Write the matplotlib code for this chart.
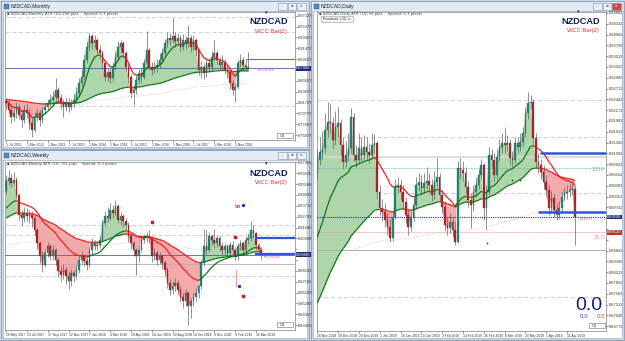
#!/usr/bin/env python3
# -*- coding:utf-8 -*-
# NZDCAD monthly / weekly / daily terminal screenshot with the WCC Bar indicator
import matplotlib
matplotlib.use("Agg")
import matplotlib.pyplot as plt
from matplotlib.patches import Rectangle
from matplotlib.collections import LineCollection
import numpy as np

W, H = 625, 341

# ---------------- monthly (Jul 2011 .. Apr 2019)
m_open0 = 0.820
m_close = [0.816, 0.804, 0.792, 0.798, 0.810, 0.795, 0.786, 0.804, 0.798, 0.780,
           0.768, 0.792, 0.798, 0.786, 0.804, 0.810, 0.816, 0.822, 0.828, 0.840,
           0.825, 0.816, 0.810, 0.819, 0.810, 0.816, 0.822, 0.834, 0.852, 0.864,
           0.894, 0.918, 0.936, 0.924, 0.930, 0.912, 0.906, 0.888, 0.864, 0.873,
           0.861, 0.882, 0.900, 0.918, 0.924, 0.906, 0.882, 0.864, 0.834, 0.840,
           0.858, 0.870, 0.864, 0.888, 0.912, 0.882, 0.876, 0.882, 0.885, 0.894,
           0.906, 0.924, 0.933, 0.930, 0.936, 0.927, 0.933, 0.918, 0.930, 0.924,
           0.933, 0.918, 0.930, 0.912, 0.876, 0.882, 0.870, 0.888, 0.882, 0.900,
           0.906, 0.894, 0.885, 0.891, 0.876, 0.873, 0.852, 0.840, 0.846, 0.888,
           0.894, 0.885, 0.882, 0.879]
m_high = [0.826, 0.822, 0.812, 0.808, 0.818, 0.815, 0.800, 0.812, 0.814, 0.806,
          0.790, 0.798, 0.806, 0.804, 0.810, 0.818, 0.824, 0.832, 0.838, 0.861,
          0.846, 0.832, 0.824, 0.828, 0.826, 0.824, 0.834, 0.846, 0.862, 0.876,
          0.904, 0.928, 0.942, 0.940, 0.938, 0.934, 0.920, 0.912, 0.894, 0.882,
          0.880, 0.890, 0.910, 0.928, 0.930, 0.928, 0.910, 0.888, 0.868, 0.848,
          0.866, 0.878, 0.880, 0.896, 0.945, 0.916, 0.890, 0.892, 0.896, 0.904,
          0.916, 0.932, 0.944, 0.942, 0.969, 0.944, 0.942, 0.938, 0.940, 0.936,
          0.956, 0.938, 0.938, 0.934, 0.916, 0.892, 0.888, 0.896, 0.898, 0.910,
          0.930, 0.912, 0.900, 0.902, 0.896, 0.884, 0.878, 0.858, 0.852, 0.894,
          0.904, 0.900, 0.896, 0.908]
m_low = [0.806, 0.796, 0.780, 0.784, 0.790, 0.788, 0.774, 0.780, 0.790, 0.770,
         0.756, 0.764, 0.784, 0.776, 0.780, 0.796, 0.804, 0.810, 0.814, 0.822,
         0.818, 0.806, 0.792, 0.802, 0.800, 0.804, 0.810, 0.816, 0.828, 0.846,
         0.858, 0.888, 0.910, 0.914, 0.916, 0.904, 0.896, 0.878, 0.856, 0.856,
         0.852, 0.856, 0.876, 0.894, 0.908, 0.898, 0.874, 0.852, 0.826, 0.813,
         0.832, 0.850, 0.854, 0.860, 0.884, 0.876, 0.866, 0.870, 0.872, 0.880,
         0.888, 0.900, 0.918, 0.920, 0.924, 0.918, 0.920, 0.910, 0.912, 0.914,
         0.918, 0.908, 0.912, 0.902, 0.866, 0.862, 0.860, 0.864, 0.874, 0.876,
         0.894, 0.886, 0.876, 0.878, 0.868, 0.862, 0.842, 0.830, 0.819, 0.842,
         0.882, 0.878, 0.874, 0.874]
m_dates = ["1 Jul 2011", "1 Mar 2012", "1 Nov 2012", "1 Jul 2013", "1 Mar 2014",
           "1 Nov 2014", "1 Jul 2015", "1 Mar 2016", "1 Nov 2016", "1 Jul 2017",
           "1 Mar 2018", "1 Nov 2018"]
m_dashed = [0.9716, 0.9434, 0.8108]
m_bid = 0.8786
m_level = 0.8948

# ---------------- weekly (28 May 2017 .. 14 Apr 2019)
w_open0 = 0.9500
w_close = [0.9583, 0.9612, 0.9569, 0.9597, 0.9468, 0.9295, 0.9266, 0.9309, 0.9281, 0.9295,
           0.9266, 0.9165, 0.9050, 0.8935, 0.8863, 0.8964, 0.9021, 0.8935, 0.8993, 0.8906,
           0.8805, 0.8777, 0.8820, 0.8762, 0.8719, 0.8791, 0.8762, 0.8820, 0.8906, 0.8935,
           0.8892, 0.8863, 0.8993, 0.9050, 0.9021, 0.9036, 0.9079, 0.9223, 0.9281, 0.9266,
           0.9338, 0.9309, 0.9367, 0.9252, 0.9281, 0.9237, 0.9209, 0.9108, 0.9050, 0.8993,
           0.8935, 0.8993, 0.9079, 0.9093, 0.9108, 0.9093, 0.8935, 0.8964, 0.8906, 0.8935,
           0.8877, 0.8820, 0.8705, 0.8647, 0.8676, 0.8705, 0.8647, 0.8589, 0.8546, 0.8618,
           0.8503, 0.8546, 0.8589, 0.8618, 0.8676, 0.8877, 0.9021, 0.8993, 0.9108, 0.9079,
           0.9050, 0.9093, 0.9021, 0.8993, 0.9021, 0.8964, 0.9036, 0.8993, 0.8935, 0.9021,
           0.9050, 0.8993, 0.9079, 0.9093, 0.9165, 0.9137, 0.9036, 0.8993, 0.8949]
w_high = [0.9640, 0.9680, 0.9650, 0.9660, 0.9620, 0.9480, 0.9340, 0.9360, 0.9350, 0.9340,
          0.9330, 0.9290, 0.9180, 0.9070, 0.8980, 0.9000, 0.9060, 0.9040, 0.9030, 0.9010,
          0.8930, 0.8850, 0.8870, 0.8840, 0.8800, 0.8830, 0.8820, 0.8860, 0.8950, 0.8980,
          0.8960, 0.8920, 0.9020, 0.9090, 0.9080, 0.9070, 0.9110, 0.9250, 0.9330, 0.9360,
          0.9400, 0.9380, 0.9425, 0.9390, 0.9320, 0.9300, 0.9270, 0.9230, 0.9130, 0.9070,
          0.9010, 0.9030, 0.9110, 0.9130, 0.9150, 0.9160, 0.9110, 0.9010, 0.8990, 0.8970,
          0.8960, 0.8900, 0.8840, 0.8740, 0.8720, 0.8750, 0.8730, 0.8680, 0.8620, 0.8650,
          0.8640, 0.8580, 0.8620, 0.8660, 0.8700, 0.8900, 0.9170, 0.9160, 0.9150, 0.9130,
          0.9170, 0.9120, 0.9110, 0.9060, 0.9050, 0.9040, 0.9060, 0.9070, 0.9020, 0.9050,
          0.9080, 0.9070, 0.9110, 0.9140, 0.9240, 0.9210, 0.9150, 0.9050, 0.9020]
w_low = [0.9470, 0.9550, 0.9530, 0.9540, 0.9440, 0.9250, 0.9200, 0.9230, 0.9240, 0.9220,
         0.9190, 0.9120, 0.9000, 0.8880, 0.8800, 0.8840, 0.8930, 0.8900, 0.8900, 0.8860,
         0.8760, 0.8720, 0.8740, 0.8700, 0.8650, 0.8680, 0.8710, 0.8740, 0.8790, 0.8870,
         0.8850, 0.8820, 0.8840, 0.8960, 0.8990, 0.8990, 0.9010, 0.9060, 0.9200, 0.9230,
         0.9250, 0.9270, 0.9290, 0.9220, 0.9210, 0.9190, 0.9170, 0.9060, 0.9000, 0.8940,
         0.8777, 0.8890, 0.8970, 0.9050, 0.9060, 0.9050, 0.8890, 0.8900, 0.8860, 0.8870,
         0.8830, 0.8770, 0.8660, 0.8600, 0.8610, 0.8640, 0.8600, 0.8540, 0.8490, 0.8510,
         0.8345, 0.8400, 0.8510, 0.8550, 0.8580, 0.8650, 0.8850, 0.8960, 0.8970, 0.9030,
         0.9010, 0.9020, 0.8980, 0.8950, 0.8960, 0.8930, 0.8940, 0.8950, 0.8900, 0.8900,
         0.8990, 0.8950, 0.8960, 0.9040, 0.9070, 0.9090, 0.9000, 0.8960, 0.8900]
w_dates = ["28 May 2017", "23 Jul 2017", "17 Sep 2017", "12 Nov 2017", "7 Jan 2018",
           "4 Mar 2018", "29 Apr 2018", "24 Jun 2018", "19 Aug 2018", "14 Oct 2018",
           "9 Dec 2018", "3 Feb 2019", "31 Mar 2019"]
w_dashed = [0.9209, 0.9122, 0.8768]
w_solid = [0.8872]
w_bid = 0.8949
w_levels = [0.9093, 0.8958]

# ---------------- daily (28 Nov 2018 .. 16 Apr 2019)
d_open0 = 0.9060
d_close = [0.9093, 0.9113, 0.9122, 0.9168, 0.9188, 0.9184, 0.9143, 0.9176, 0.9184, 0.9130,
           0.9088, 0.9105, 0.9122, 0.9201, 0.9105, 0.9093, 0.9122, 0.9105, 0.9126, 0.9113,
           0.9105, 0.9130, 0.9134, 0.9013, 0.8972, 0.8963, 0.8943, 0.8926, 0.8897, 0.8951,
           0.9026, 0.9030, 0.9013, 0.8988, 0.8955, 0.8926, 0.8951, 0.8980, 0.9030, 0.9038,
           0.9022, 0.9034, 0.9041, 0.9030, 0.9005, 0.9038, 0.9049, 0.9005, 0.8976, 0.8930,
           0.8922, 0.8938, 0.8918, 0.8888, 0.9072, 0.9068, 0.9059, 0.9026, 0.8993, 0.8980,
           0.9013, 0.9030, 0.9055, 0.9080, 0.8972, 0.9013, 0.9105, 0.9093, 0.9055, 0.9101,
           0.9126, 0.9134, 0.9130, 0.9134, 0.9097, 0.9093, 0.9134, 0.9126, 0.9138, 0.9159,
           0.9209, 0.9234, 0.9238, 0.9147, 0.9088, 0.9080, 0.9063, 0.9038, 0.9018, 0.8972,
           0.8997, 0.8968, 0.8955, 0.8972, 0.9001, 0.9009, 0.9013, 0.9018, 0.9019, 0.8951]
d_high = [0.9120, 0.9150, 0.9165, 0.9210, 0.9238, 0.9235, 0.9200, 0.9215, 0.9225, 0.9195,
          0.9150, 0.9140, 0.9160, 0.9222, 0.9210, 0.9130, 0.9160, 0.9150, 0.9155, 0.9150,
          0.9135, 0.9160, 0.9158, 0.9140, 0.9030, 0.8995, 0.8985, 0.8960, 0.8945, 0.8965,
          0.9045, 0.9051, 0.9045, 0.9030, 0.9000, 0.8970, 0.8965, 0.9000, 0.9051, 0.9060,
          0.9055, 0.9060, 0.9076, 0.9060, 0.9045, 0.9065, 0.9097, 0.9060, 0.9020, 0.8990,
          0.8950, 0.8960, 0.8950, 0.8940, 0.9090, 0.9097, 0.9090, 0.9075, 0.9040, 0.9010,
          0.9030, 0.9050, 0.9070, 0.9095, 0.9085, 0.9030, 0.9126, 0.9120, 0.9110, 0.9120,
          0.9145, 0.9160, 0.9176, 0.9155, 0.9145, 0.9115, 0.9150, 0.9150, 0.9160, 0.9175,
          0.9225, 0.9263, 0.9255, 0.9245, 0.9160, 0.9110, 0.9095, 0.9080, 0.9055, 0.9030,
          0.9015, 0.9010, 0.8985, 0.8990, 0.9015, 0.9025, 0.9030, 0.9035, 0.9035, 0.9030]
d_low = [0.9045, 0.9080, 0.9095, 0.9110, 0.9150, 0.9160, 0.9120, 0.9130, 0.9150, 0.9105,
         0.9070, 0.9075, 0.9090, 0.9110, 0.9090, 0.9075, 0.9085, 0.9090, 0.9095, 0.9095,
         0.9085, 0.9095, 0.9110, 0.8995, 0.8955, 0.8940, 0.8925, 0.8905, 0.8888, 0.8890,
         0.8945, 0.9010, 0.8995, 0.8970, 0.8935, 0.8905, 0.8915, 0.8940, 0.8970, 0.9015,
         0.9005, 0.9010, 0.9020, 0.9010, 0.8990, 0.8995, 0.9025, 0.8990, 0.8960, 0.8915,
         0.8905, 0.8910, 0.8900, 0.8880, 0.8885, 0.9045, 0.9040, 0.9010, 0.8975, 0.8922,
         0.8965, 0.9000, 0.9020, 0.9045, 0.8943, 0.8918, 0.9005, 0.9075, 0.9040, 0.9045,
         0.9090, 0.9110, 0.9110, 0.9115, 0.9080, 0.9075, 0.9085, 0.9110, 0.9115, 0.9125,
         0.9150, 0.9195, 0.9220, 0.9130, 0.9075, 0.9060, 0.9045, 0.9020, 0.9000, 0.8955,
         0.8960, 0.8950, 0.8943, 0.8945, 0.8960, 0.8990, 0.8995, 0.9000, 0.9005, 0.8880]
d_dates = ["28 Nov 2018", "10 Dec 2018", "20 Dec 2018", "1 Jan 2019", "10 Jan 2019",
           "23 Jan 2019", "4 Feb 2019", "14 Feb 2019", "26 Feb 2019", "8 Mar 2019",
           "20 Mar 2019", "1 Apr 2019", "11 Apr 2019"]
d_dashed = [0.9242, 0.9151, 0.9011, 0.8751]
d_solid = [0.9101, 0.8868]
d_bid = 0.8950
d_tp = 0.9073
d_sl = 0.8912
d_levels = [0.9109, 0.8962]

# indicator settings: (period, seed) for fast, slow and long average
m_ma = [(8, 0.822), (89, 0.823), (200, 0.815)]
w_ma = [(21, 0.9327), (50, 0.9253), (200, 0.902)]
d_ma = [(21, 0.888), (50, 0.872), (200, 0.8824)]

BULL, BEAR = "#23897a", "#b3262a"
GREEN_LINE, RED_LINE = "#0b7512", "#ee1c1c"
GREEN_FILL, RED_FILL = "#afd6aa", "#f7a8a8"
SMALL = "Liberation Sans"


def ema(vals, period, seed):
    a = 2.0 / (period + 1)
    out, e = [], seed
    for v in vals:
        e = e + a * (v - e)
        out.append(e)
    return np.array(out)


def trend_line(ax, y, c, lw):
    x = np.arange(len(y))
    pts = np.column_stack([x, y])
    segs = np.stack([pts[:-1], pts[1:]], axis=1)
    cols = np.where(c[1:] >= y[1:], GREEN_LINE, RED_LINE)
    ax.add_collection(LineCollection(segs, colors=cols, linewidths=lw, zorder=5))


def chart(ax, open0, close, high, low, ma, ylim, ystep, dates, tags):
    c = np.array(close)
    o = np.concatenate([[open0], c[:-1]])
    h, l = np.array(high), np.array(low)
    x = np.arange(len(c))
    fast, slow, long_ = [ema(c, p, s) for p, s in ma]

    ax.fill_between(x, c, slow, where=c >= slow, interpolate=True, color=GREEN_FILL, lw=0, zorder=1)
    ax.fill_between(x, c, slow, where=c < slow, interpolate=True, color=RED_FILL, lw=0, zorder=1)
    ax.plot(x, long_, color="#c4c4c4", lw=0.6, ls=(0, (1, 1.5)), zorder=2)

    up = c >= o
    ax.vlines(x, l, h, color="#555555", lw=0.45, zorder=3)
    ax.bar(x[up], (c - o)[up], bottom=o[up], width=0.62, color=BULL,
           edgecolor="#1b5e55", lw=0.2, zorder=4)
    ax.bar(x[~up], (o - c)[~up], bottom=c[~up], width=0.62, color=BEAR,
           edgecolor="#7a1a1a", lw=0.2, zorder=4)
    trend_line(ax, slow, c, 0.9)
    trend_line(ax, fast, c, 0.9)

    ax.set_xlim(-0.4, 111)
    ax.set_ylim(*ylim)
    ax.yaxis.tick_right()
    ticks = np.arange(ylim[0] + ystep * 0.45, ylim[1], ystep)
    # hide the plain labels that would sit under a coloured price tag
    keep = [t for t in ticks if all(abs(t - g) > 0.7 * ystep for g in tags)]
    ax.set_yticks(ticks)
    ax.set_yticklabels(["%.5f" % t if t in keep else "" for t in ticks],
                       fontfamily=SMALL)
    ax.set_xticks(np.arange(0, 8 * len(dates), 8))
    ax.set_xticklabels(dates, ha="left", fontfamily=SMALL)
    ax.tick_params(axis="y", length=1.5, width=0.4, labelsize=2.9, pad=0.8,
                   colors="#333333")
    ax.tick_params(axis="x", length=1.5, width=0.4, labelsize=2.4, pad=0.8,
                   colors="#333333")
    for sp in ax.spines.values():
        sp.set_color("#808080")
        sp.set_linewidth(0.5)
    for v, fc in tags.items():
        ax.text(1.004, v, "%.5f" % v, transform=ax.get_yaxis_transform(), fontsize=2.9,
                color="white", va="center", ha="left", clip_on=False, zorder=20,
                family=SMALL, bbox=dict(boxstyle="square,pad=0.12", fc=fc, ec="none"))
    return c


def hlines(ax, levels, **kw):
    for v in levels:
        ax.axhline(v, zorder=2.5, **kw)


fig = plt.figure(figsize=(6.25, 3.41), dpi=100)
bg = fig.add_axes([0, 0, 1, 1], zorder=-5)
bg.set_xlim(0, W)
bg.set_ylim(H, 0)
bg.axis("off")
bg.add_patch(Rectangle((0, 0), W, H, color="#cdd8e5"))


def window(x0, y0, x1, y1, title, red_close=False):
    bg.add_patch(Rectangle((x0, y0), x1 - x0, y1 - y0, facecolor="#c6d4e6",
                           edgecolor="#8a9db8", lw=0.6))
    bg.add_patch(Rectangle((x0 + 1, y0 + 1), x1 - x0 - 2, 8.5, facecolor="#e2eaf4",
                           edgecolor="none"))
    bg.add_patch(Rectangle((x0 + 3, y0 + 2.5), 5, 5, facecolor="#5b86c4",
                           edgecolor="#2a4a80", lw=0.3))
    bg.text(x0 + 10, y0 + 5.3, title, fontsize=3.6, va="center", color="#1e1e1e",
            family=SMALL)
    for k, sym in enumerate(["\u2012", "\u25ab", "x"]):
        bx = x1 - 31 + k * 9.5
        fc = "#cf4a3c" if (red_close and k == 2) else "#eef2f8"
        bg.add_patch(Rectangle((bx, y0 + 2), 8.5, 6.5, facecolor=fc,
                               edgecolor="#7d8ea6", lw=0.4))
        bg.text(bx + 4.25, y0 + 5.3, sym, fontsize=3.0, ha="center", va="center",
                color="white" if fc != "#eef2f8" else "#333333")
    bg.add_patch(Rectangle((x0 + 2, y0 + 10), x1 - x0 - 4, y1 - y0 - 12,
                           facecolor="white", edgecolor="#9aa9bd", lw=0.4))


window(1, 1, 309, 149, "NZDCAD,Monthly")
window(1, 150, 309, 340, "NZDCAD,Weekly")
window(311, 1, 624, 340, "NZDCAD,Daily", red_close=True)


def px_axes(x0, y0, x1, y1):
    return fig.add_axes([x0 / W, 1 - y1 / H, (x1 - x0) / W, (y1 - y0) / H])


NAVY_TAG = "#1f2a78"

# ---- monthly
axm = px_axes(5, 12, 295, 140)
chart(axm, m_open0, m_close, m_high, m_low, m_ma, (0.750, 0.980), 0.0195, m_dates,
      {m_bid: NAVY_TAG})
hlines(axm, m_dashed, color="#c8c8c8", lw=0.6, ls=(0, (5, 3)))
axm.axhline(m_bid, color="#5360b0", lw=0.6, zorder=2.6)
axm.hlines(m_level, 92.3, 111, color="#4a62c8", lw=0.7, zorder=6)

# ---- weekly
axw = px_axes(5, 162, 295, 330)
chart(axw, w_open0, w_close, w_high, w_low, w_ma, (0.830, 0.975), 0.00936, w_dates,
      {w_bid: NAVY_TAG})
hlines(axw, w_dashed, color="#c8c8c8", lw=0.6, ls=(0, (5, 3)))
hlines(axw, w_solid, color="#b0b0b0", lw=0.6)
axw.axhline(w_bid, color="#5360b0", lw=0.6, zorder=2.6)
axw.hlines(w_levels, 95.8, 111, color="#2f56d6", lw=1.6, zorder=6)
w_mark_x = [56, 88, 91]
w_mark_y = [0.9234, 0.9105, 0.8595]
axw.scatter(w_mark_x, w_mark_y, s=2.5, marker="s", color="#d01818", zorder=7)
axw.vlines(88.5, 0.8676, 0.8820, color="#d01818", lw=0.6, ls=(0, (1, 1)), zorder=7)
axw.scatter([89.5], [0.8680], s=2, color="#2233cc", zorder=7)
axw.text(89, 0.9364, "t\u0438", fontsize=4.5, color="#d01818", ha="center",
         va="center", zorder=7)
axw.scatter([91], [0.9380], s=2, color="#2233cc", zorder=7)

# ---- daily
axd = px_axes(317, 12, 606, 331)
chart(axd, d_open0, d_close, d_high, d_low, d_ma, (0.8665, 0.94625), 0.0027, d_dates,
      {d_bid: NAVY_TAG, d_sl: "#c03030"})
axd.set_xlim(-0.1, 111)
hlines(axd, d_dashed, color="#c8c8c8", lw=0.6, ls=(0, (5, 3)))
axd.axhline(d_solid[0], color="#d8d8d8", lw=1.2, zorder=2.4)
axd.axhline(d_solid[1], color="#a8a8a8", lw=0.6, zorder=2.4)
axd.axhline(d_tp, color="#60b8b8", lw=0.6, ls=(0, (1, 1)), zorder=2.6)
axd.axhline(d_sl, color="#f08a8a", lw=0.6, ls=(0, (1, 1)), zorder=2.6)
axd.axhline(d_bid, color="#1a2a9a", lw=0.8, ls=(0, (1, 1)), zorder=2.7)
axd.hlines(d_levels, [85.7, 85.0], 111, color="#2f56d6", lw=1.8, zorder=6)
d_plus_x = [65.3, 74.9, 78.0]
d_plus_y = [0.8885, 0.9043, 0.9043]
axd.scatter(d_plus_x, d_plus_y, marker="+", s=4, lw=0.6, color="#0b7512", zorder=7)
axd.text(110.5, d_tp - 0.0008, "1200", fontsize=3.6, color="#5fb0b0", ha="right", zorder=7)
axd.text(110.5, d_sl - 0.0016, "35.0", fontsize=3.6, color="#ee8888", ha="right", zorder=7)
axd.text(100.5, d_bid - 0.0007, "-000.0", fontsize=3.2, color="#d85aa8", ha="left", zorder=7)

# ---- overlay texts
top = fig.add_axes([0, 0, 1, 1], zorder=10)
top.set_xlim(0, W)
top.set_ylim(H, 0)
top.axis("off")

info = [(7, 14.5, "NZDCAD,Monthly ATR (15) 294 pips    Spread: 0.3 points"),
        (7, 164.5, "NZDCAD,Weekly ATR (15) 151 pips    Spread: 0.3 points"),
        (319, 14.5, "NZDCAD,Daily ATR (15) 54 pips    Spread: 0.3 points")]
for x, y, s in info:
    top.text(x, y, "\u25aa " + s, fontsize=2.7, color="#444444", va="center")

for cx, cy in [(269, 22), (269, 173), (581, 21)]:
    top.text(cx, cy, "NZDCAD", fontsize=6.6, fontweight="bold", color="#111c70",
             ha="center", va="center", family=SMALL)
    top.text(cx + 2, cy + 9.5, "WCC Bar(2)", fontsize=4.2, color="#f03030",
             ha="center", va="center", family=SMALL)
    top.text(cx - 3, cy - 9.5, "\u25be", fontsize=3.5, color="#111c70",
             ha="center", va="center")

top.text(257, 70, "+0.0034", fontsize=3.0, color="#d040c0", va="center")
top.text(263, 257, "+0.0018", fontsize=3.0, color="#d040c0", va="center")

# Position box
top.add_patch(Rectangle((321, 16), 32, 5.5, facecolor="#f4f4f4", edgecolor="#9a9a9a", lw=0.4))
top.text(323, 18.8, "Position | \u2610 \u00d7", fontsize=2.8, color="#333333", va="center")

# Q1 boxes
for bx, by in [(277, 133), (277, 322), (589, 323)]:
    top.add_patch(Rectangle((bx, by), 16, 5, facecolor="white", edgecolor="#707070", lw=0.4))
    top.text(bx + 3, by + 2.6, "Q1", fontsize=2.8, color="#333333", va="center")

# profit counters
top.text(589, 305, "0.0", fontsize=14, color="#141f80", ha="center", va="center",
         family=SMALL)
top.text(584, 316, "0.0", fontsize=4, color="#2a3aa0", ha="center", va="center")
top.text(601, 316, "0.0", fontsize=4, color="#f03030", ha="center", va="center")

fig.savefig("out.png", dpi=100)
